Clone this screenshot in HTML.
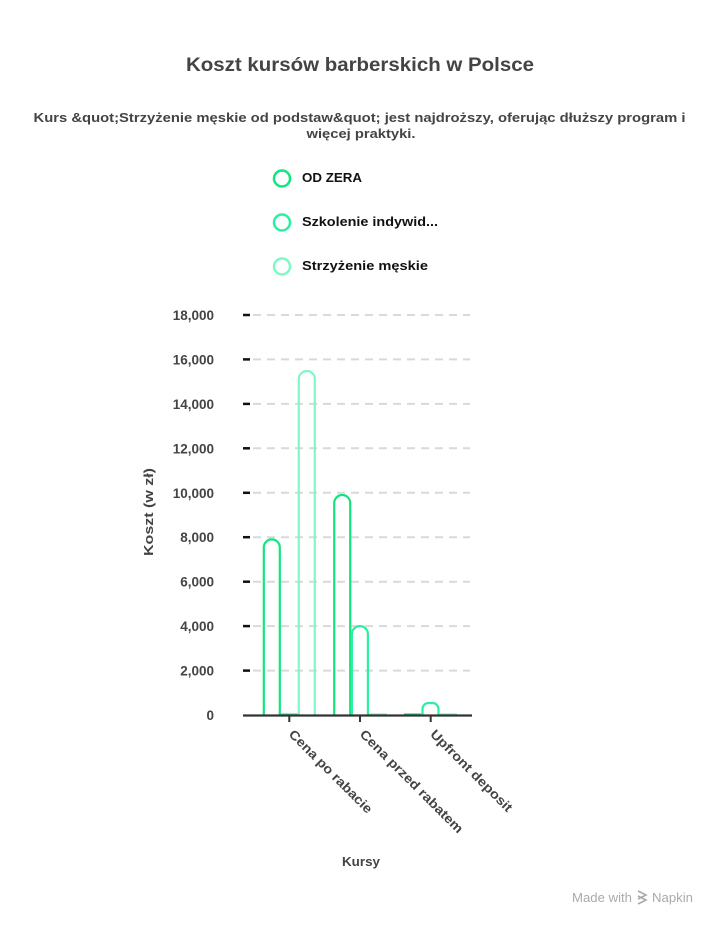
<!DOCTYPE html>
<html><head><meta charset="utf-8"><style>
html,body{margin:0;padding:0;background:#fff;}
svg{display:block;}
text{font-family:"Liberation Sans",sans-serif;font-weight:bold;}
</style></head><body>
<svg width="720" height="928" viewBox="0 0 720 928" xmlns="http://www.w3.org/2000/svg">
<rect width="720" height="928" fill="#fff"/>
<text x="360" y="71" text-anchor="middle" font-size="19" fill="#444" textLength="348" lengthAdjust="spacingAndGlyphs">Koszt kursów barberskich w Polsce</text>
<text x="359.5" y="122" text-anchor="middle" font-size="13" fill="#444" textLength="652" lengthAdjust="spacingAndGlyphs">Kurs &amp;quot;Strzyżenie męskie od podstaw&amp;quot; jest najdroższy, oferując dłuższy program i</text>
<text x="361" y="138" text-anchor="middle" font-size="13" fill="#444" textLength="109" lengthAdjust="spacingAndGlyphs">więcej praktyki.</text>

<circle cx="282" cy="178.5" r="8" fill="none" stroke="#12E57D" stroke-width="2.5"/>
<circle cx="282" cy="222.5" r="8" fill="none" stroke="#2BF0A0" stroke-width="2.5"/>
<circle cx="282" cy="266.5" r="8" fill="none" stroke="#7FF8C6" stroke-width="2.5"/>
<text x="302" y="182" font-size="12.5" fill="#111" textLength="60" lengthAdjust="spacingAndGlyphs">OD ZERA</text>
<text x="302" y="226" font-size="12.5" fill="#111" textLength="136" lengthAdjust="spacingAndGlyphs">Szkolenie indywid...</text>
<text x="302" y="270" font-size="12.5" fill="#111" textLength="126" lengthAdjust="spacingAndGlyphs">Strzyżenie męskie</text>

<g stroke="#d9d9d9" stroke-width="2" stroke-dasharray="8,6">
<line x1="253" y1="315" x2="470" y2="315"/>
<line x1="253" y1="359.4" x2="470" y2="359.4"/>
<line x1="253" y1="403.9" x2="470" y2="403.9"/>
<line x1="253" y1="448.3" x2="470" y2="448.3"/>
<line x1="253" y1="492.8" x2="470" y2="492.8"/>
<line x1="253" y1="537.2" x2="470" y2="537.2"/>
<line x1="253" y1="581.7" x2="470" y2="581.7"/>
<line x1="253" y1="626.1" x2="470" y2="626.1"/>
<line x1="253" y1="670.6" x2="470" y2="670.6"/>
</g>
<g stroke="#111" stroke-width="2.5">
<line x1="243" y1="315" x2="250" y2="315"/>
<line x1="243" y1="359.4" x2="250" y2="359.4"/>
<line x1="243" y1="403.9" x2="250" y2="403.9"/>
<line x1="243" y1="448.3" x2="250" y2="448.3"/>
<line x1="243" y1="492.8" x2="250" y2="492.8"/>
<line x1="243" y1="537.2" x2="250" y2="537.2"/>
<line x1="243" y1="581.7" x2="250" y2="581.7"/>
<line x1="243" y1="626.1" x2="250" y2="626.1"/>
<line x1="243" y1="670.6" x2="250" y2="670.6"/>
</g>
<g font-size="13.5" fill="#444" text-anchor="end">
<text x="214" y="320">18,000</text>
<text x="214" y="364.4">16,000</text>
<text x="214" y="408.9">14,000</text>
<text x="214" y="453.3">12,000</text>
<text x="214" y="497.8">10,000</text>
<text x="214" y="542.2">8,000</text>
<text x="214" y="586.7">6,000</text>
<text x="214" y="631.1">4,000</text>
<text x="214" y="675.6">2,000</text>
<text x="214" y="720">0</text>
</g>

<!-- bars -->
<g fill="none" stroke-width="2.2">
<!-- group 1 -->
<path d="M263.8,715 V547.4 a8,8 0 0 1 8,-8 a8,8 0 0 1 8,8 V715" stroke="#12E57D"/>
<line x1="280.7" y1="714.5" x2="297.7" y2="714.5" stroke="#2BF0A0"/>
<path d="M298.8,715 V379 a8,8 0 0 1 8,-8 a8,8 0 0 1 8,8 V715" stroke="#7FF8C6"/>
<!-- group 2 -->
<path d="M334.2,715 V503 a8,8 0 0 1 8,-8 a8,8 0 0 1 8,8 V715" stroke="#12E57D"/>
<path d="M351.9,715 V634.1 a8,8 0 0 1 8,-8 a8,8 0 0 1 8,8 V715" stroke="#2BF0A0"/>
<line x1="369" y1="714.5" x2="387" y2="714.5" stroke="#7FF8C6"/>
<!-- group 3 -->
<line x1="404" y1="714.5" x2="421" y2="714.5" stroke="#12E57D"/>
<path d="M422.5,715 V709 a6,6 0 0 1 6,-6 H432.5 a6,6 0 0 1 6,6 V715" stroke="#2BF0A0"/>
<line x1="440" y1="714.5" x2="457" y2="714.5" stroke="#7FF8C6"/>
</g>

<line x1="243" y1="715.5" x2="472" y2="715.5" stroke="#333" stroke-width="2.2"/>
<g stroke="#333" stroke-width="2">
<line x1="289.3" y1="715" x2="289.3" y2="722"/>
<line x1="360" y1="715" x2="360" y2="722"/>
<line x1="430.7" y1="715" x2="430.7" y2="722"/>
</g>

<g font-size="13" fill="#444">
<text transform="translate(288,735) rotate(45)" textLength="112" lengthAdjust="spacingAndGlyphs">Cena po rabacie</text>
<text transform="translate(359,735) rotate(45)" textLength="140" lengthAdjust="spacingAndGlyphs">Cena przed rabatem</text>
<text transform="translate(429.5,735) rotate(45)" textLength="110" lengthAdjust="spacingAndGlyphs">Upfront deposit</text>
</g>

<text x="361" y="866" text-anchor="middle" font-size="13" fill="#444" textLength="38" lengthAdjust="spacingAndGlyphs">Kursy</text>
<text transform="translate(153,512) rotate(-90)" text-anchor="middle" font-size="13" fill="#444" textLength="88" lengthAdjust="spacingAndGlyphs">Koszt (w zł)</text>

<text x="572" y="902" font-size="12.5" fill="#aaa" style="font-weight:normal" textLength="60" lengthAdjust="spacingAndGlyphs">Made with</text>
<g stroke="#aaa" stroke-width="1.6" fill="none">
<path d="M638,891 L646,895 L638,899"/>
<path d="M638,896 L646,900 L638,904"/>
</g>
<text x="652" y="902" font-size="12.5" fill="#aaa" style="font-weight:normal" textLength="41" lengthAdjust="spacingAndGlyphs">Napkin</text>
</svg>
</body></html>
